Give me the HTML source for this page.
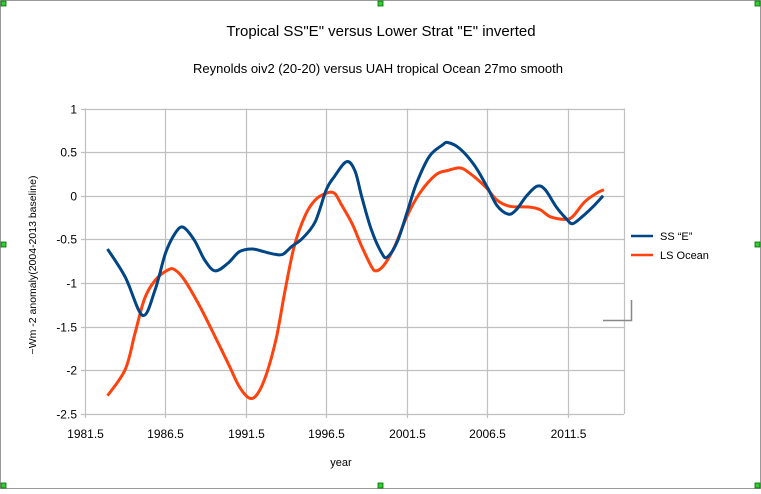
<!DOCTYPE html>
<html><head><meta charset="utf-8"><style>
body{margin:0;background:#fff;}
svg text{font-family:"Liberation Sans",Arial,sans-serif;fill:#000;}
</style></head><body>
<svg id="chart" width="761" height="489" viewBox="0 0 761 489">
<rect x="0.5" y="0.5" width="760" height="488" fill="#fff" stroke="#999"/>
<text x="381" y="36" font-size="15" text-anchor="middle">Tropical SS"E" versus Lower Strat "E" inverted</text>
<text x="378" y="73" font-size="13" text-anchor="middle">Reynolds oiv2 (20-20) versus UAH tropical Ocean  27mo smooth</text>
<g id="grid"></g>
<g id="ticks"></g>
<g id="series"></g>
<text transform="translate(36,265) rotate(-90)" font-size="10.5" text-anchor="middle">~Wm -2 anomaly(2004-2013 baseline)</text>
<text x="341" y="466" font-size="11" text-anchor="middle">year</text>
<g>
<line x1="631" y1="236" x2="653" y2="236" stroke="#004586" stroke-width="2.5"/>
<text x="660" y="240" font-size="11">SS “E”</text>
<line x1="631" y1="255" x2="653" y2="255" stroke="#ff420e" stroke-width="2.5"/>
<text x="660" y="259" font-size="11">LS Ocean</text>
</g>
<path d="M603 320.5 H631.5 V300" fill="none" stroke="#888" stroke-width="1.5"/>
<g fill="#3c3" stroke="#060" stroke-width="0.8">
<rect x="1" y="1" width="5" height="5"/><rect x="378" y="1" width="5" height="5"/><rect x="755" y="1" width="5" height="5"/>
<rect x="1" y="242" width="5" height="5"/><rect x="755" y="242" width="5" height="5"/>
<rect x="1" y="483" width="5" height="5"/><rect x="378" y="483" width="5" height="5"/><rect x="755" y="483" width="5" height="5"/>
</g>
</svg>
<script>
const ssYears=[1982.9,1984.0,1985.08,1985.85,1986.5,1987.1,1987.6,1988.3,1988.95,1989.6,1990.4,1991.1,1991.9,1992.6,1993.3,1993.8,1994.35,1995.0,1995.8,1996.5,1997.0,1997.75,1998.27,1998.7,1999.3,1999.95,2000.3,2000.9,2001.5,2002.1,2002.9,2003.7,2004.05,2004.8,2005.7,2006.5,2007.1,2007.8,2008.3,2008.95,2009.6,2010.1,2010.8,2011.4,2011.8,2012.4,2013.05,2013.7];
const ssValues=[-0.61,-0.93,-1.37,-1.08,-0.66,-0.43,-0.36,-0.51,-0.74,-0.86,-0.77,-0.64,-0.61,-0.64,-0.67,-0.67,-0.58,-0.49,-0.30,0.07,0.22,0.39,0.29,-0.01,-0.39,-0.66,-0.70,-0.53,-0.20,0.14,0.45,0.58,0.61,0.54,0.35,0.10,-0.11,-0.21,-0.16,0.00,0.11,0.07,-0.13,-0.26,-0.32,-0.24,-0.13,0.0];
const lsYears=[1982.9,1984.0,1984.6,1985.2,1985.85,1986.65,1987.1,1987.7,1988.65,1989.6,1990.5,1991.1,1991.75,1992.25,1992.8,1993.4,1993.9,1994.5,1995.2,1995.8,1996.5,1997.0,1997.4,1998.1,1998.7,1999.3,1999.6,2000.1,2000.75,2001.5,2002.3,2003.3,2004.05,2004.8,2005.4,2006.4,2007.1,2007.9,2009.15,2009.8,2010.4,2011.3,2011.8,2012.55,2013.3,2013.75];
const lsValues=[-2.29,-1.99,-1.58,-1.18,-0.97,-0.85,-0.85,-0.97,-1.27,-1.62,-1.96,-2.19,-2.32,-2.26,-2.03,-1.62,-1.12,-0.58,-0.22,-0.05,0.03,0.03,-0.09,-0.32,-0.58,-0.81,-0.86,-0.79,-0.58,-0.24,0.03,0.24,0.29,0.32,0.26,0.10,-0.05,-0.12,-0.13,-0.16,-0.24,-0.27,-0.24,-0.07,0.03,0.07];
const xTicks=[1981.5,1986.5,1991.5,1996.5,2001.5,2006.5,2011.5];
const yTicks=[1,0.5,0,-0.5,-1,-1.5,-2,-2.5];

const L=85,R=624,T=108.5,B=414,X0=1981.5,X1=2015,Y0=-2.5,Y1=1;
const sx=v=>L+(v-X0)/(X1-X0)*(R-L);
const sy=v=>B-(v-Y0)/(Y1-Y0)*(B-T);
const NS="http://www.w3.org/2000/svg";
function mk(tag,attrs,parent,text){const e=document.createElementNS(NS,tag);for(const k in attrs)e.setAttribute(k,attrs[k]);if(text!=null)e.textContent=text;parent.appendChild(e);return e;}
const grid=document.getElementById('grid'),ticks=document.getElementById('ticks'),series=document.getElementById('series');
yTicks.forEach(v=>{
  const y=Math.round(sy(v))+0.5;
  const g=mk('line',{x1:L-4,x2:R,y1:y,y2:y,stroke:'#c0c0c0','stroke-width':1.2},grid);
  
  
  const t=mk('text',{x:L-8,y:y+4,'font-size':12,'text-anchor':'end'},ticks,String(v));
  
  
});
xTicks.forEach(v=>{
  const x=Math.round(sx(v))+0.5;
  const g=mk('line',{x1:x,x2:x,y1:T,y2:B+4,stroke:'#c0c0c0','stroke-width':1.2},grid);
  
  
  const t=mk('text',{x:x,y:B+24,'font-size':12,'text-anchor':'middle'},ticks,String(v));
  
  
});
const rx=Math.round(R)+0.5;
const rl=mk('line',{x1:rx,x2:rx,y1:T,y2:B,stroke:'#c0c0c0','stroke-width':1.2},grid);


function smooth(xs,ys){
  const p=xs.map((x,i)=>[sx(x),sy(ys[i])]);
  let d='M'+p[0][0].toFixed(1)+' '+p[0][1].toFixed(1);
  for(let i=0;i<p.length-1;i++){
    const p0=p[i-1]||p[i],p1=p[i],p2=p[i+1],p3=p[i+2]||p2;
    const c1=[p1[0]+(p2[0]-p0[0])/6,p1[1]+(p2[1]-p0[1])/6];
    const c2=[p2[0]-(p3[0]-p1[0])/6,p2[1]-(p3[1]-p1[1])/6];
    d+=' C'+c1.map(n=>n.toFixed(1)).join(' ')+' '+c2.map(n=>n.toFixed(1)).join(' ')+' '+p2[0].toFixed(1)+' '+p2[1].toFixed(1);
  }
  return d;
}
const ls=mk('path',{d:smooth(lsYears,lsValues),fill:'none',stroke:'#ff420e','stroke-width':3,'stroke-linejoin':'round'},series);


const ss=mk('path',{d:smooth(ssYears,ssValues),fill:'none',stroke:'#004586','stroke-width':3,'stroke-linejoin':'round'},series);


</script>
</body></html>
